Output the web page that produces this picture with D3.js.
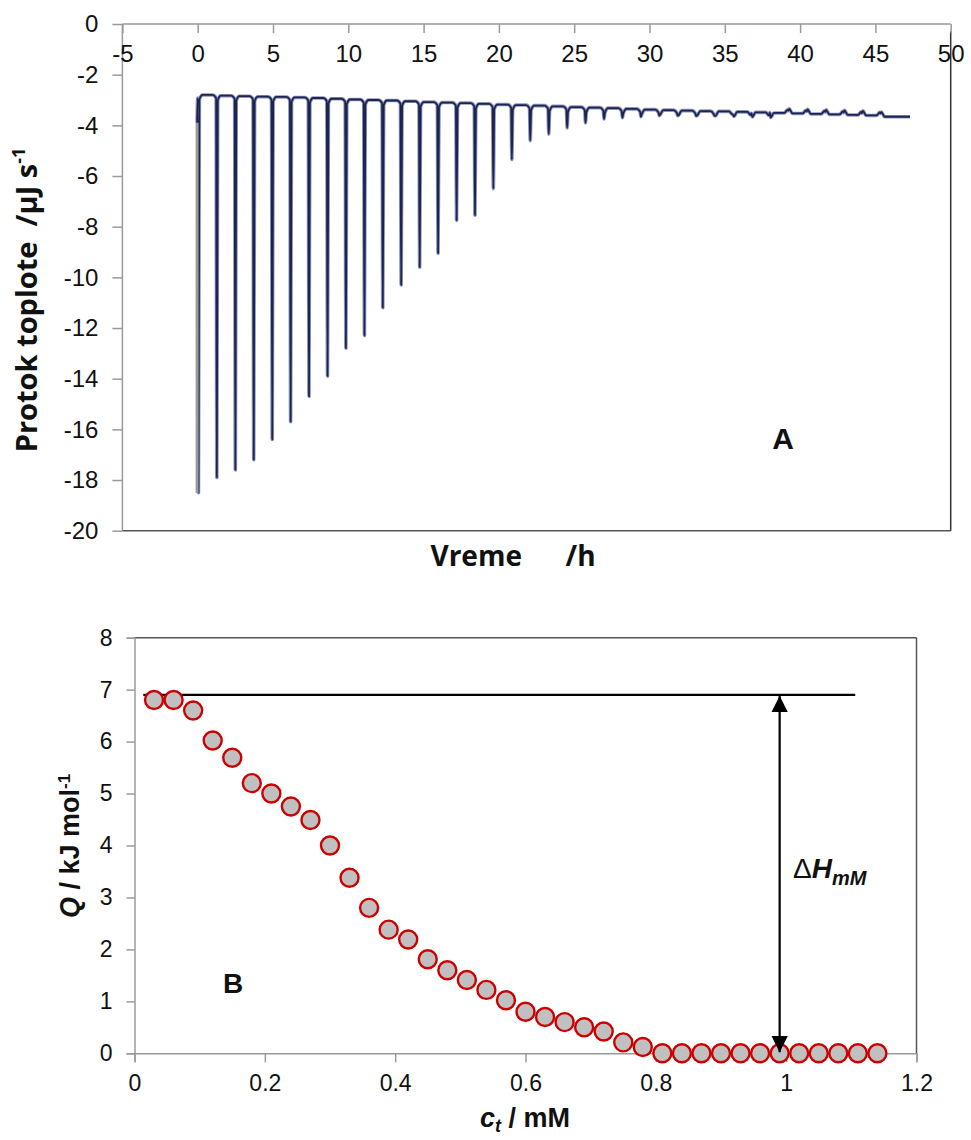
<!DOCTYPE html>
<html>
<head>
<meta charset="utf-8">
<script src="https://cdn.jsdelivr.net/npm/d3@7"></script>
<style>
  html, body { margin: 0; padding: 0; background: #fff; }
  svg { display: block; }
</style>
</head>
<body>
<svg id="chart" width="971" height="1140" font-family="Liberation Sans, Arial, sans-serif"></svg>
<script>
// ---------- Panel A data (thermogram) ----------
const injTimes = [0, 1.22, 2.45, 3.67, 4.9, 6.12, 7.34, 8.57, 9.79, 11.02, 12.24, 13.46, 14.69, 15.91,
  17.14, 18.36, 19.58, 20.81, 22.03, 23.26, 24.48, 25.7, 26.93, 28.15, 29.38, 30.6, 31.82, 33.05,
  34.27, 35.5, 36.72, 37.94, 39.17, 40.39, 41.62, 42.84, 44.06, 45.29];
const peakValues = [-18.5, -17.9, -17.6, -17.2, -16.4, -15.7, -14.7, -13.9, -12.8, -12.3, -11.2, -10.3,
  -9.6, -9.05, -7.75, -7.55, -6.5, -5.35, -4.6, -4.35, -4.1, -3.9, -3.75, -3.7, -3.66, -3.62, -3.62,
  -3.63, -3.62, -3.58, -3.52, -3.5, -3.42, -3.45, -3.47, -3.5, -3.52, -3.53];
const baseValues = [-2.8, -2.8, -2.83, -2.85, -2.87, -2.88, -2.9, -2.92, -2.95, -2.98, -3.0, -3.02,
  -3.05, -3.08, -3.1, -3.12, -3.15, -3.18, -3.2, -3.22, -3.25, -3.28, -3.3, -3.32, -3.35, -3.38, -3.4,
  -3.42, -3.44, -3.45, -3.47, -3.49, -3.51, -3.53, -3.55, -3.57, -3.59, -3.61];
const traceStart = [-0.04, -3.9];
const traceEnd = [47.3, -3.66];
const xTicksA = [-5, 0, 5, 10, 15, 20, 25, 30, 35, 40, 45, 50];
const yTicksA = [0, -2, -4, -6, -8, -10, -12, -14, -16, -18, -20];

// ---------- Panel B data (integrated heats) ----------
const concB = [0.03, 0.06, 0.09, 0.12, 0.15, 0.18, 0.21, 0.24, 0.27, 0.30, 0.33, 0.36, 0.39, 0.42,
  0.45, 0.48, 0.51, 0.54, 0.57, 0.60, 0.63, 0.66, 0.69, 0.72, 0.75, 0.78, 0.81, 0.84, 0.87, 0.90,
  0.93, 0.96, 0.99, 1.02, 1.05, 1.08, 1.11, 1.14];
const heatB = [6.8, 6.8, 6.6, 6.02, 5.69, 5.2, 5.0, 4.75, 4.49, 4.0, 3.38, 2.8, 2.38, 2.19, 1.81,
  1.6, 1.41, 1.22, 1.02, 0.8, 0.7, 0.6, 0.5, 0.42, 0.21, 0.12, 0, 0, 0, 0, 0, 0, 0, 0, 0, 0, 0, 0];
const plateauQ = 6.9;
const plateauRange = [0.0135, 1.106];
const arrowX = 0.99;
const xTicksB = [0, 0.2, 0.4, 0.6, 0.8, 1, 1.2];
const yTicksB = [0, 1, 2, 3, 4, 5, 6, 7, 8];

const svg = d3.select("#chart");
const SANS = "Liberation Sans, Arial, sans-serif";
const OPEN = "Open Sans, Liberation Sans, sans-serif";

// ================= Panel A =================
const xA = d3.scaleLinear().domain([-5, 50]).range([122.4, 950.7]);
const yA = d3.scaleLinear().domain([0, -20]).range([24, 530.7]);

const gA = svg.append("g");
gA.append("line").attr("x1", xA(-5)).attr("x2", xA(50)).attr("y1", yA(0)).attr("y2", yA(0))
  .attr("stroke", "#9a9a9a").attr("stroke-width", 1.5);
gA.append("line").attr("x1", xA(-5)).attr("x2", xA(-5)).attr("y1", yA(0)).attr("y2", yA(-20))
  .attr("stroke", "#9a9a9a").attr("stroke-width", 1.5);
gA.append("line").attr("x1", xA(-5)).attr("x2", xA(50)).attr("y1", yA(-20)).attr("y2", yA(-20))
  .attr("stroke", "#555").attr("stroke-width", 1.5);
gA.append("line").attr("x1", xA(50)).attr("x2", xA(50)).attr("y1", yA(-0.3)).attr("y2", yA(-20))
  .attr("stroke", "#333").attr("stroke-width", 1.5);

const xAxisA = d3.axisBottom(xA).tickValues(xTicksA).tickSize(9).tickPadding(12).tickFormat(d => String(d));
const gxA = gA.append("g").attr("transform", `translate(0,${yA(0)})`).call(xAxisA);
gxA.select(".domain").remove();
gxA.selectAll(".tick line").attr("stroke", "#9a9a9a").attr("stroke-width", 1.5);
gxA.selectAll(".tick text").style("font-size", "24px").style("font-family", SANS).attr("fill", "#111");

const yAxisA = d3.axisLeft(yA).tickValues(yTicksA).tickSize(10).tickPadding(14).tickFormat(d => String(d));
const gyA = gA.append("g").attr("transform", `translate(${xA(-5)},0)`).call(yAxisA);
gyA.select(".domain").remove();
gyA.selectAll(".tick line").attr("stroke", "#9a9a9a").attr("stroke-width", 1.5);
gyA.selectAll(".tick text").style("font-size", "24px").style("font-family", SANS).attr("fill", "#111");

// trace built from injection times, peak minima and baseline levels
const pts = [traceStart];
injTimes.forEach((t, i) => {
  const b = baseValues[i];
  const p = peakValues[i];
  const bNext = i + 1 < baseValues.length ? baseValues[i + 1] : traceEnd[1];
  const dir = p < b ? -1 : 1;
  if (i > 0) pts.push([t - 0.22, b]);
  pts.push([t, b + dir * 0.12]);
  pts.push([t + 0.05, p]);
  pts.push([t + 0.11, bNext + dir * 0.18]);
  pts.push([t + 0.32, bNext]);
});
pts.push(traceEnd);

const lineA = d3.line().x(d => xA(d[0])).y(d => yA(d[1])).curve(d3.curveMonotoneX);
gA.append("path").datum(pts).attr("d", lineA).attr("fill", "none")
  .attr("stroke", "#9095b8").attr("stroke-width", 3.6).attr("stroke-linejoin", "round");
gA.append("path").datum(pts).attr("d", lineA).attr("fill", "none")
  .attr("stroke", "#1c2452").attr("stroke-width", 1.8).attr("stroke-linejoin", "round");
gA.append("line").attr("x1", xA(traceStart[0])).attr("x2", xA(traceStart[0]))
  .attr("y1", yA(traceStart[1])).attr("y2", yA(peakValues[0]))
  .attr("stroke", "#9a9a9a").attr("stroke-width", 3);

// titles
gA.append("text")
  .attr("transform", `translate(37,300) rotate(-90)`)
  .attr("text-anchor", "middle").attr("fill", "#111")
  .style("font-family", OPEN).style("font-weight", "bold").style("font-size", "29px")
  .html('Protok toplote&#160;&#160;/µJ s<tspan baseline-shift="super" style="font-size:18px">-1</tspan>');
gA.append("text")
  .attr("x", 513).attr("y", 566).attr("text-anchor", "middle").attr("fill", "#111")
  .style("font-family", OPEN).style("font-weight", "bold").style("font-size", "28px")
  .html('Vreme&#160;&#160;&#160;&#160;&#160;&#160;/h');
gA.append("text").attr("x", 783).attr("y", 449).attr("text-anchor", "middle").attr("fill", "#111")
  .style("font-family", SANS).style("font-weight", "bold").style("font-size", "30px").text("A");

// ================= Panel B =================
const xB = d3.scaleLinear().domain([0, 1.2]).range([134.5, 916.5]);
const yB = d3.scaleLinear().domain([0, 8]).range([1053.3, 637.7]);
const gB = svg.append("g");

gB.append("line").attr("x1", xB(0)).attr("x2", xB(1.2)).attr("y1", yB(8)).attr("y2", yB(8))
  .attr("stroke", "#555").attr("stroke-width", 1.5);
gB.append("line").attr("x1", xB(1.2)).attr("x2", xB(1.2)).attr("y1", yB(8)).attr("y2", yB(0))
  .attr("stroke", "#555").attr("stroke-width", 1.5);

const xAxisB = d3.axisBottom(xB).tickValues(xTicksB).tickSize(9).tickPadding(12).tickFormat(d => String(d));
const gxB = gB.append("g").attr("transform", `translate(0,${yB(0)})`).call(xAxisB);
gxB.select(".domain").attr("stroke", "#9a9a9a").attr("stroke-width", 1.5);
gxB.selectAll(".tick line").attr("stroke", "#9a9a9a").attr("stroke-width", 1.5);
gxB.selectAll(".tick text").style("font-size", "23px").style("font-family", SANS).attr("fill", "#111");

const yAxisB = d3.axisLeft(yB).tickValues(yTicksB).tickSize(8).tickPadding(14).tickFormat(d => String(d));
const gyB = gB.append("g").attr("transform", `translate(${xB(0)},0)`).call(yAxisB);
gyB.select(".domain").attr("stroke", "#9a9a9a").attr("stroke-width", 1.5);
gyB.selectAll(".tick line").attr("stroke", "#9a9a9a").attr("stroke-width", 1.5);
gyB.selectAll(".tick text").style("font-size", "23px").style("font-family", SANS).attr("fill", "#111");

gB.append("line").attr("x1", xB(plateauRange[0])).attr("x2", xB(plateauRange[1]))
  .attr("y1", yB(plateauQ)).attr("y2", yB(plateauQ))
  .attr("stroke", "#000").attr("stroke-width", 2.2);

gB.selectAll("circle.pt").data(concB.map((c, i) => [c, heatB[i]])).enter()
  .append("circle").attr("class", "pt")
  .attr("cx", d => xB(d[0])).attr("cy", d => yB(d[1])).attr("r", 9)
  .attr("fill", "#c0c0c0").attr("stroke", "#cc0000").attr("stroke-width", 2.4);

const defs = svg.append("defs");
defs.append("marker").attr("id", "ah").attr("viewBox", "0 0 10 10").attr("refX", 10).attr("refY", 5)
  .attr("markerWidth", 7.5).attr("markerHeight", 7.5).attr("markerUnits", "strokeWidth")
  .attr("orient", "auto-start-reverse")
  .append("path").attr("d", "M0,0 L10,5 L0,10 z").attr("fill", "#000");
gB.append("line").attr("x1", xB(arrowX)).attr("x2", xB(arrowX))
  .attr("y1", yB(plateauQ) + 1).attr("y2", yB(0) - 1)
  .attr("stroke", "#000").attr("stroke-width", 2.2)
  .attr("marker-start", "url(#ah)").attr("marker-end", "url(#ah)");

gB.append("text").attr("x", 793).attr("y", 878).attr("fill", "#111")
  .style("font-family", SANS).style("font-size", "28px")
  .html('<tspan style="font-weight:normal">Δ</tspan><tspan style="font-weight:bold;font-style:italic">H</tspan><tspan style="font-weight:bold;font-style:italic;font-size:20px" dy="7">mM</tspan>');
gB.append("text").attr("x", 233).attr("y", 993).attr("text-anchor", "middle").attr("fill", "#111")
  .style("font-family", SANS).style("font-weight", "bold").style("font-size", "28px").text("B");
gB.append("text")
  .attr("transform", `translate(79,846) rotate(-90)`)
  .attr("text-anchor", "middle").attr("fill", "#111")
  .style("font-family", SANS).style("font-weight", "bold").style("font-size", "27px")
  .html('<tspan style="font-style:italic">Q</tspan> / kJ mol<tspan baseline-shift="super" style="font-size:17px">-1</tspan>');
gB.append("text")
  .attr("x", 525).attr("y", 1127).attr("text-anchor", "middle").attr("fill", "#111")
  .style("font-family", SANS).style("font-weight", "bold").style("font-size", "27px")
  .html('<tspan style="font-style:italic">c</tspan><tspan style="font-style:italic;font-size:18px" dy="5">t</tspan><tspan dy="-5"> / mM</tspan>');
</script>
</body>
</html>
